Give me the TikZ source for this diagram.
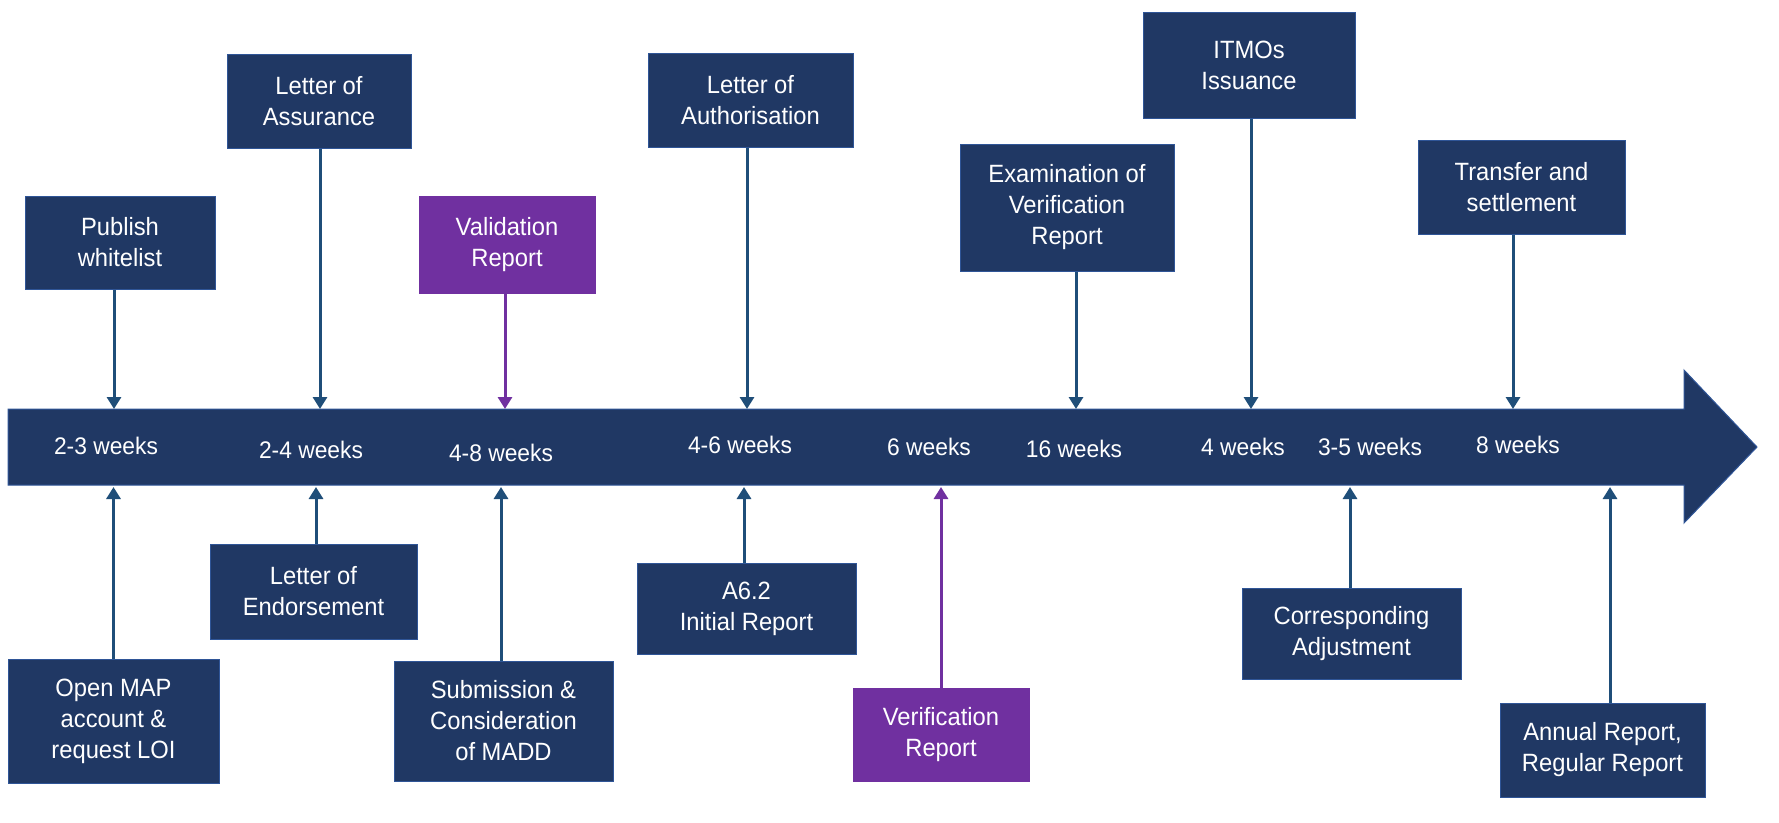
\documentclass[tikz,border=0pt]{standalone}
\usepackage{fontspec}
\setmainfont{Liberation Sans}[FakeStretch=0.95]
\usetikzlibrary{arrows.meta}
\definecolor{navy}{HTML}{203864}
\definecolor{navyedge}{HTML}{2F5597}
\definecolor{arrowblue}{HTML}{1F4E79}
\definecolor{purp}{HTML}{7030A0}
\tikzset{
 box/.style={rectangle, fill=navy, draw=navyedge, line width=1pt, text=white, align=center, inner sep=0pt, font=\fontsize{25}{31}\selectfont},
 pbox/.style={box, fill=purp, draw=purp},
 arr/.style={draw=arrowblue, fill=arrowblue, line width=3pt, -{Triangle[width=14pt,length=12pt]}},
 parr/.style={arr, draw=purp, fill=purp},
 wk/.style={text=white, font=\fontsize{24}{29}\selectfont, inner sep=0pt},
}
\begin{document}
\begin{tikzpicture}[x=1pt,y=-1pt]
\useasboundingbox (0,0) rectangle (1779,822);
\fill[white] (0,0) rectangle (1779,822);
% timeline bar
\path[fill=navy, draw=navyedge, line width=1pt] (8,409) -- (1684,409) -- (1684,370) -- (1757,447) -- (1684,523) -- (1684,485) -- (8,485) -- cycle;
\coordinate (bartop) at (0,409);
\coordinate (barbot) at (0,487);
% durations
\node[wk] (w1) at (106,446) {2-3 weeks};
\node[wk] (w2) at (311,450) {2-4 weeks};
\node[wk] (w3) at (501,453) {4-8 weeks};
\node[wk] (w4) at (740,445) {4-6 weeks};
\node[wk] (w5) at (929,447) {6 weeks};
\node[wk] (w6) at (1074,449) {16 weeks};
\node[wk] (w7) at (1243,447) {4 weeks};
\node[wk] (w8) at (1370,447) {3-5 weeks};
\node[wk] (w9) at (1518,445) {8 weeks};
% top boxes
\node[box, minimum width=190pt, minimum height=93pt] (pw) at (120,242.5) {Publish\\whitelist};
\node[box, minimum width=184pt, minimum height=94pt] (la) at (319,101) {Letter of\\Assurance};
\node[pbox, minimum width=176pt, minimum height=97pt] (vr) at (507,244.5) {Validation\\Report};
\node[box, minimum width=205pt, minimum height=94pt] (lau) at (750.5,100) {Letter of\\Authorisation};
\node[box, minimum width=214pt, minimum height=127pt] (evr) at (1067,207.5) {Examination of\\Verification\\Report};
\node[box, minimum width=212pt, minimum height=106pt] (itmo) at (1249,65) {ITMOs\\Issuance};
\node[box, minimum width=207pt, minimum height=94pt] (ts) at (1521.5,187) {Transfer and\\settlement};
% bottom boxes
\node[box, minimum width=211pt, minimum height=124pt] (om) at (113.5,721) {Open MAP\\account \&\\request LOI};
\node[box, minimum width=207pt, minimum height=95pt] (le) at (313.5,591.5) {Letter of\\Endorsement};
\node[box, minimum width=219pt, minimum height=120pt] (sub) at (503.5,721) {Submission \&\\Consideration\\of MADD};
\node[box, minimum width=219pt, minimum height=91pt] (a62) at (746.5,608.5) {A6.2\\Initial Report};
\node[pbox, minimum width=176pt, minimum height=93pt] (ver) at (941,734.5) {Verification\\Report};
\node[box, minimum width=219pt, minimum height=91pt] (ca) at (1351.5,633.5) {Corresponding\\Adjustment};
\node[box, minimum width=205pt, minimum height=94pt] (ar) at (1602.5,750) {Annual Report,\\Regular Report};
% arrows from top
\draw[arr] ([xshift=-6pt]pw.south) -- ([xshift=-6pt]pw.south |- bartop);
\draw[arr] ([xshift=1pt]la.south) -- ([xshift=1pt]la.south |- bartop);
\draw[parr] ([xshift=-2pt]vr.south) -- ([xshift=-2pt]vr.south |- bartop);
\draw[arr] ([xshift=-3.5pt]lau.south) -- ([xshift=-3.5pt]lau.south |- bartop);
\draw[arr] ([xshift=9pt]evr.south) -- ([xshift=9pt]evr.south |- bartop);
\draw[arr] ([xshift=2pt]itmo.south) -- ([xshift=2pt]itmo.south |- bartop);
\draw[arr] ([xshift=-8.5pt]ts.south) -- ([xshift=-8.5pt]ts.south |- bartop);
% arrows from bottom
\draw[arr] (om.north) -- (om.north |- barbot);
\draw[arr] ([xshift=2.5pt]le.north) -- ([xshift=2.5pt]le.north |- barbot);
\draw[arr] ([xshift=-2.5pt]sub.north) -- ([xshift=-2.5pt]sub.north |- barbot);
\draw[arr] ([xshift=-2.5pt]a62.north) -- ([xshift=-2.5pt]a62.north |- barbot);
\draw[parr] (ver.north) -- (ver.north |- barbot);
\draw[arr] ([xshift=-1.5pt]ca.north) -- ([xshift=-1.5pt]ca.north |- barbot);
\draw[arr] ([xshift=7.5pt]ar.north) -- ([xshift=7.5pt]ar.north |- barbot);
\end{tikzpicture}
\end{document}
